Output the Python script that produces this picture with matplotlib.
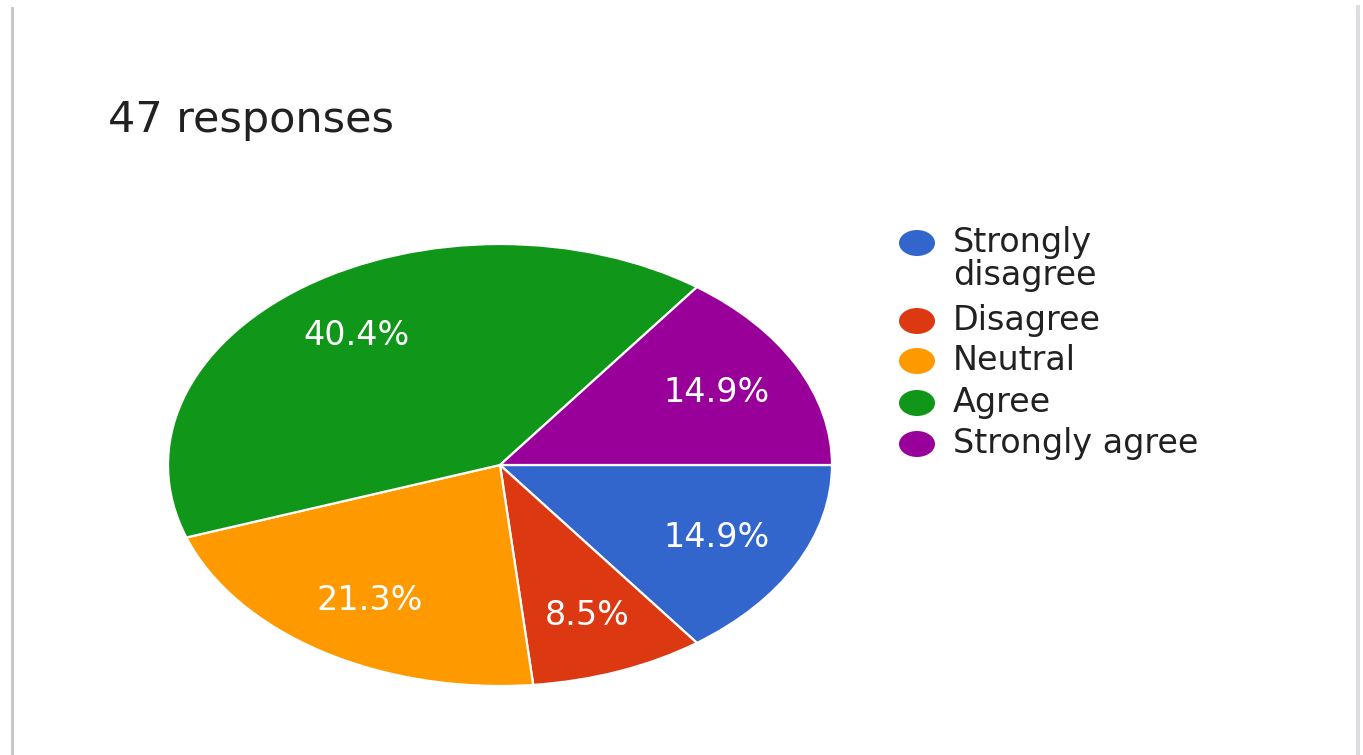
import matplotlib
matplotlib.use("Agg")
import matplotlib.pyplot as plt
from matplotlib.patches import Ellipse, Rectangle

title = "47 responses"
categories = ["Strongly\ndisagree", "Disagree", "Neutral", "Agree", "Strongly agree"]
counts = [7, 4, 10, 19, 7]
colors = ["#3366cc", "#dc3912", "#ff9900", "#109618", "#990099"]

W, H = 1363, 755
fig = plt.figure(figsize=(W / 100, H / 100), dpi=100)
fig.patch.set_facecolor("white")

# overlay in pixel coords
ov = fig.add_axes([0, 0, 1, 1])
ov.set_xlim(0, W)
ov.set_ylim(H, 0)
ov.axis("off")
ov.add_patch(Rectangle((11, 7), 3, H, color="#c9c9cc", lw=0))
ov.add_patch(Rectangle((1356, 5), 4, H, color="#dcdce3", lw=0))
ov.text(108, 132, title, fontsize=31, color="#212121", family="DejaVu Sans",
        va="baseline", ha="left")

# pie
cx, cy, rx, ry = 500, 465, 332, 221
ax = fig.add_axes([(cx - rx) / W, (H - cy - ry) / H, 2 * rx / W, 2 * ry / H])
wedges, texts, autotexts = ax.pie(
    counts, colors=colors, startangle=0, counterclock=False,
    autopct="%1.1f%%", pctdistance=0.73,
    wedgeprops=dict(edgecolor="white", linewidth=1.6),
    textprops=dict(color="white", fontsize=24, family="DejaVu Sans"))
ax.set_aspect("auto")
ax.set_xlim(-1, 1)
ax.set_ylim(-1, 1)

# legend
baselines = [252, 330, 370, 412, 453]
for lab, col, bl in zip(categories, colors, baselines):
    ov.add_patch(Ellipse((917, bl - 9), 36, 26, color=col, lw=0))
    for i, line in enumerate(lab.split("\n")):
        ov.text(953, bl + 33 * i, line, fontsize=24, color="#212121",
                family="DejaVu Sans", va="baseline", ha="left")

fig.savefig("out.png", dpi=100, facecolor="white")
